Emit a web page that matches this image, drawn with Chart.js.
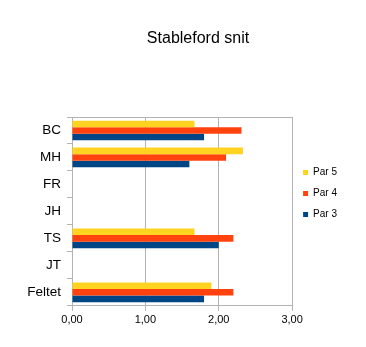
<!DOCTYPE html>
<html>
<head>
<meta charset="utf-8">
<script src="https://cdn.jsdelivr.net/npm/chart.js@4/dist/chart.umd.min.js"></script>
<style>
  html, body { margin: 0; padding: 0; background: #fff; }
  #wrap { width: 366px; height: 347px; }
</style>
</head>
<body>
<div id="wrap"><canvas id="chart" width="366" height="347"></canvas></div>
<script>
const players = ["BC", "MH", "FR", "JH", "TS", "JT", "Feltet"];
const par5 = [1.67, 2.33, null, null, 1.67, null, 1.9];
const par4 = [2.31, 2.1, null, null, 2.2, null, 2.2];
const par3 = [1.8, 1.6, null, null, 2.0, null, 1.8];
const seriesNames = ["Par 5", "Par 4", "Par 3"];
const colors = ["#FFD320", "#FF420E", "#004586"];

const font = "'Liberation Sans', Arial, sans-serif";

// title sits a little right of centre, legend a little lower; plus the top edge of the plot frame
const framePlugin = {
  id: "frame",
  afterLayout(chart) {
    chart.titleBlock.left += 19.5;
    chart.titleBlock.right += 19.5;
    chart.legend.top += 28.5;
    chart.legend.bottom += 28.5;
  },
  beforeDatasetsDraw(chart) {
    const { ctx, chartArea } = chart;
    ctx.save();
    ctx.strokeStyle = "#b3b3b3";
    ctx.lineWidth = 1;
    ctx.beginPath();
    ctx.moveTo(chartArea.left, chartArea.top + 0.5);
    ctx.lineTo(chartArea.right, chartArea.top + 0.5);
    ctx.stroke();
    ctx.restore();
  }
};

new Chart(document.getElementById("chart"), {
  type: "bar",
  data: {
    labels: players,
    datasets: [par5, par4, par3].map((values, i) => ({
      label: seriesNames[i],
      data: values,
      backgroundColor: colors[i],
      borderWidth: 0,
      categoryPercentage: 0.73,
      barPercentage: 1.0
    }))
  },
  options: {
    indexAxis: "y",
    responsive: false,
    animation: false,
    layout: { padding: { left: 10, right: 19, top: 0, bottom: 17 } },
    plugins: {
      title: {
        display: true,
        text: "Stableford snit",
        color: "#000",
        font: { family: font, size: 16, weight: "normal" },
        padding: { top: 29.4, bottom: 68.4 }
      },
      legend: {
        position: "right",
        labels: {
          color: "#000",
          font: { family: font, size: 10 },
          boxWidth: 5,
          boxHeight: 5,
          padding: 11
        }
      },
      tooltip: { enabled: false }
    },
    scales: {
      x: {
        min: 0,
        max: 3,
        ticks: {
          stepSize: 1,
          color: "#000",
          font: { family: font, size: 11 },
          padding: 3,
          callback: (v) => v.toFixed(2).replace(".", ",")
        },
        grid: { color: "#b3b3b3", tickLength: 5 },
        border: { color: "#b3b3b3" }
      },
      y: {
        ticks: {
          color: "#000",
          font: { family: font, size: 13.5 },
          padding: 6
        },
        grid: { drawOnChartArea: false, offset: true, color: "#b3b3b3", tickLength: 5 },
        border: { color: "#b3b3b3" },
        afterFit(scale) { scale.width = 62; }
      }
    }
  },
  plugins: [framePlugin]
});
</script>
</body>
</html>
